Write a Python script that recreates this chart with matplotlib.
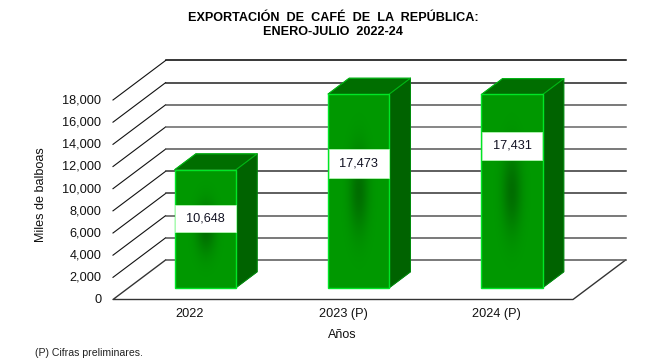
import numpy as np
import matplotlib
matplotlib.use('Agg')
import matplotlib.pyplot as plt
from matplotlib.patches import Polygon, Rectangle
from matplotlib.transforms import ScaledTranslation

plt.rcParams['font.family'] = ['Liberation Sans', 'DejaVu Sans']

# Data
anios = ['2022', '2023 (P)', '2024 (P)']
valores = [10648, 17473, 17431]
marcas = [0, 2000, 4000, 6000, 8000, 10000, 12000, 14000, 16000, 18000]

# Layout of the fake 3D box: total depth in axis units
prof_x = 0.343
prof_y = 3564.
ancho = 0.4
z0 = 0.3
z1 = 0.7
# Height and size of the white label boxes, these do not follow the value
etq_y = [7290, 12280, 13850]
etq_h = [2440, 2620, 2530]
# Colour of each back wall line, black on top and grey further down
gris = ['#555555', '#555555', '#555555', '#333333', '#333333', '#555555', '#666666', '#555555', '#222222', '#000000']

verde_borde = (0.0, 0.90, 0.15)

fig = plt.figure(figsize=(6.66, 3.6), dpi=100)
ax = fig.add_axes([113/666., 60.5/360., 460/666., 199.5/360.])
ax.patch.set_alpha(0)
for s in ax.spines.values():
	s.set_visible(False)

# Floor and the grid lines on the left and back walls
ax.plot([prof_x, 0, 3, 3+prof_x], [prof_y, 0, 0, prof_y], color='#333333', lw=1.0, clip_on=False, zorder=1)
for j in range(len(marcas)):
	m = marcas[j]
	if j > 0:
		ax.plot([0, prof_x], [m, m+prof_y], color='#111111', lw=0.8, clip_on=False, zorder=1)
	ax.plot([prof_x, 3+prof_x], [m+prof_y, m+prof_y], color=gris[j], lw=1.1, clip_on=False, zorder=1)

for i in range(len(valores)):
	x0 = i+0.5-ancho/2+z0*prof_x
	x1 = x0+ancho
	y0 = z0*prof_y
	y1 = y0+valores[i]
	dx = (z1-z0)*prof_x
	dy = (z1-z0)*prof_y

	# Side and top faces
	ax.add_patch(Polygon([(x1, y0), (x1+dx, y0+dy), (x1+dx, y1+dy), (x1, y1)], closed=True,
		facecolor=(0, 0.39, 0), edgecolor=(0, 0.39, 0), lw=0.5, clip_on=False, zorder=2))
	ax.plot([x1, x1+dx, x1+dx], [y0, y0+dy, y1+dy], color=(0, 0.55, 0.05), lw=0.7, clip_on=False, zorder=2.5)
	ax.add_patch(Polygon([(x0, y1), (x1, y1), (x1+dx, y1+dy), (x0+dx, y1+dy)], closed=True,
		facecolor=(0, 0.43, 0), edgecolor=(0, 0.43, 0), lw=0.5, clip_on=False, zorder=2))
	ax.plot([x0, x0+dx, x1+dx, x1], [y1, y1+dy, y1+dy, y1], color=(0, 0.72, 0.08), lw=0.8, clip_on=False, zorder=2.5)

	# Front face with the dark spot in the middle
	u, v = np.meshgrid(np.linspace(-1, 1, 80), np.linspace(-1, 1, 200))
	d = np.exp(-(u/0.32)**2-(v/0.42)**2)
	img = np.zeros(u.shape+(3,))
	img[..., 1] = 0.60-0.17*d
	im = ax.imshow(img, extent=[x0, x1, y0, y1], origin='lower', aspect='auto', zorder=3,
		interpolation='bilinear')
	im.set_clip_path(Rectangle((x0, y0), ancho, valores[i], transform=ax.transData))
	ax.add_patch(Rectangle((x0, y0), ancho, valores[i], facecolor='none', edgecolor=verde_borde, lw=1.0,
		clip_on=False, zorder=3.5))

	# White label box
	ax.add_patch(Rectangle((x0+0.003, etq_y[i]-etq_h[i]/2.), ancho-0.006, etq_h[i], facecolor='white',
		edgecolor=(0.75, 1, 0.75), lw=0.5, zorder=4))
	ax.text((x0+x1)/2., etq_y[i], format(valores[i], ','), ha='center', va='center', fontsize=9.2,
		color='#111122', zorder=5)

ax.set_xlim(0, 3)
ax.set_ylim(0, 18000)
ax.set_xticks([0.5, 1.5, 2.5])
ax.set_xticklabels(anios, fontsize=9.2, color='#111111')
ax.set_yticks(marcas)
ax.set_yticklabels([format(m, ',') for m in marcas], fontsize=9.2, color='#111111')
ax.tick_params(axis='both', length=0)
ax.tick_params(axis='x', pad=6)
ax.tick_params(axis='y', pad=8.5)
# The y labels sit a little above their lines
for t in ax.get_yticklabels():
	t.set_transform(t.get_transform()+ScaledTranslation(0, 1/100., fig.dpi_scale_trans))

fig.text(333/666., 1-18/360., 'EXPORTACIÓN  DE  CAFÉ  DE  LA  REPÚBLICA:', ha='center', va='center',
	fontsize=9.05, fontweight='bold')
fig.text(333/666., 1-32/360., 'ENERO-JULIO  2022-24', ha='center', va='center', fontsize=9.05, fontweight='bold')
fig.text(342/666., 1-335/360., 'Años', ha='center', va='center', fontsize=9, color='#111111')
fig.text(41.5/666., 1-195/360., 'Miles de balboas', rotation=90, ha='center', va='center', fontsize=9.1, color='#111111')
fig.text(35/666., 1-352.5/360., '(P) Cifras preliminares.', ha='left', va='center', fontsize=7.6, color='#222222')

fig.savefig('out.png', dpi=100)
